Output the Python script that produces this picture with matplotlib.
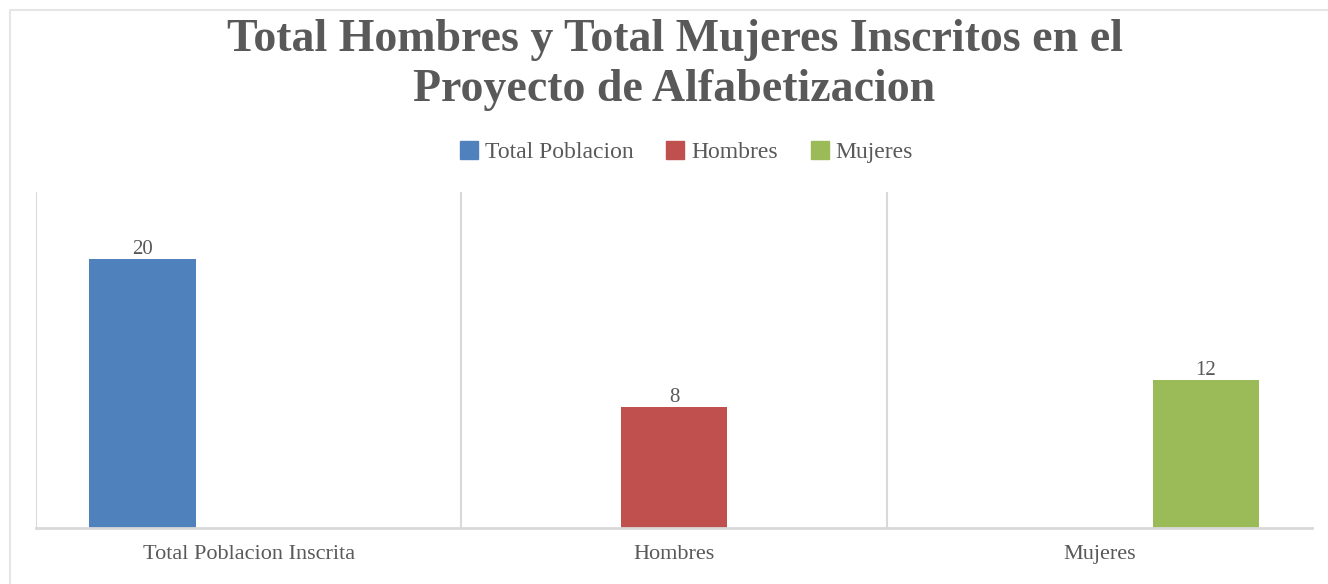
"""
Grafico de barras agrupadas: poblacion inscrita en el proyecto de alfabetizacion.
"""
import matplotlib.pyplot as plt
import matplotlib.patches as mpatches
import numpy as np

# Datos
categorias = ["Total Poblacion Inscrita", "Hombres", "Mujeres"]
series = ["Total Poblacion", "Hombres", "Mujeres"]
total_poblacion = [20, 0, 0]
hombres = [0, 9, 0]
mujeres = [0, 0, 11]
etiquetas = [["20", "", ""], ["", "8", ""], ["", "", "12"]]
colores = ["#4F81BD", "#C0504D", "#9BBB59"]

texto = "#595959"
gris = "#D9D9D9"
plt.rcParams['font.family'] = ['Liberation Serif', 'DejaVu Serif']

fig = plt.figure(figsize=(13.28, 5.84), dpi=100)
ax = fig.add_axes([36 / 1328, 56 / 584, 1276 / 1328, 336 / 584])

# marco exterior del grafico
fig.patches.append(mpatches.Rectangle((10 / 1328, -0.05), 1.1, 1.0 - 10 / 584 + 0.05,
                                      transform=fig.transFigure, fill=False,
                                      edgecolor="#E6E6E6", linewidth=1.5))

x = np.arange(len(categorias))
ancho = 0.25
for i, (nombre, valores) in enumerate(zip(series, [total_poblacion, hombres, mujeres])):
    barras = ax.bar(x + (i - 1) * ancho, valores, ancho, color=colores[i], label=nombre)
    ax.bar_label(barras, labels=etiquetas[i], padding=0, fontsize=15, color=texto)

ax.set_xlim(-0.5, 2.5)
ax.set_ylim(0, 25)
ax.set_yticks([])
ax.set_xticks(x)
ax.set_xticklabels(categorias, fontsize=16, color=texto)
ax.tick_params(axis="x", length=0, pad=12)
for sep in np.arange(-0.5, 2, 1):
    ax.axvline(sep, color=gris, linewidth=1.5, zorder=0)
for lado in ["top", "right", "left"]:
    ax.spines[lado].set_visible(False)
ax.spines["bottom"].set_color(gris)
ax.spines["bottom"].set_linewidth(2)

fig.text(0.508, 0.889, "Total Hombres y Total Mujeres Inscritos en el\nProyecto de Alfabetizacion",
         ha="center", va="center", fontsize=33, fontweight="bold", color=texto,
         linespacing=1.27)

manejadores = [mpatches.Patch(color=c, label=s) for c, s in zip(colores, series)]
fig.legend(handles=manejadores, loc="center", bbox_to_anchor=(0.517, 0.739), ncol=3,
           frameon=False, fontsize=17, handlelength=0.75, handleheight=0.75,
           handletextpad=0.3, columnspacing=1.4, labelcolor=texto)

plt.savefig("out.png")
